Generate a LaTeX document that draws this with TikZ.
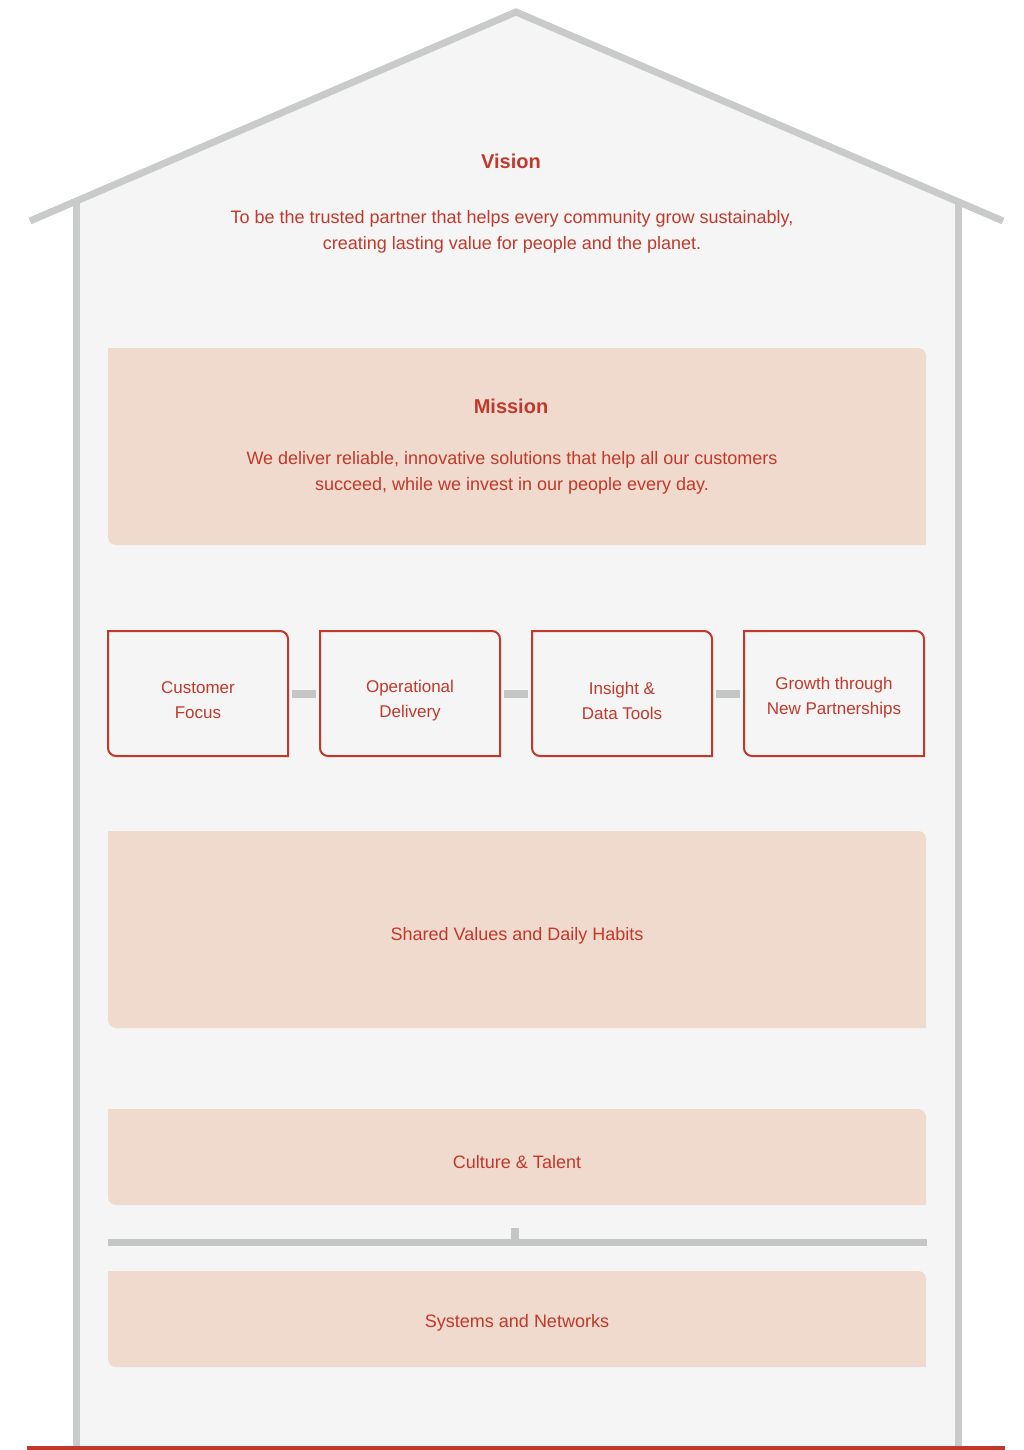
\documentclass[tikz,border=0pt]{standalone}
\usepackage{fontspec}
\setmainfont{Liberation Sans}
\usepackage{tikz}
\usetikzlibrary{calc}

\definecolor{wallgray}{HTML}{C9CACA}
\definecolor{bargray}{HTML}{C4C5C5}
\definecolor{housefill}{HTML}{F5F5F5}
\definecolor{brickred}{HTML}{C0392B}
\definecolor{peach}{HTML}{F0DACE}

% box with rounded top right and bottom left corners
\newcommand{\leafbox}[2]{%
	\path[#1] (#2.north west) -- ([xshift=-8pt]#2.north east)
		arc[start angle=90, end angle=0, radius=8pt] -- (#2.south east)
		-- ([xshift=8pt]#2.south west)
		arc[start angle=270, end angle=180, radius=8pt] -- cycle;}

\begin{document}
\begin{tikzpicture}[x=1pt, y=1pt,
		wall/.style={draw=wallgray, line width=7pt},
		bar/.style={draw=bargray, line width=8pt},
		slab/.style={minimum width=818pt, inner sep=0pt, outer sep=0pt},
		pillar/.style={minimum width=180pt, minimum height=125pt, inner sep=0pt, outer sep=0pt},
		heading/.style={text=brickred, font=\bfseries\fontsize{20}{24}\selectfont},
		body/.style={text=brickred, align=center, font=\fontsize{18}{26}\selectfont},
		small/.style={text=brickred, align=center, font=\fontsize{17}{25}\selectfont}]

		\useasboundingbox (0,0) rectangle (1024,-1450);

		% House: body, walls and roof
		\coordinate (eaveL) at (30,-221);
		\coordinate (wallL) at (76,-201);
		\coordinate (apex) at (516,-12);
		\coordinate (wallR) at (958,-201);
		\coordinate (eaveR) at (1003,-221);
		\fill[housefill] (wallL) -- (apex) -- (wallR) -- (958,-1450) -- (76,-1450) -- cycle;
		\draw[wall] (wallL) -- (76,-1450);
		\draw[wall] (wallR) -- (958,-1450);
		\draw[wall, line join=miter] (eaveL) -- (apex) -- (eaveR);

		% Ground line
		\coordinate (groundL) at (27,-1450);
		\coordinate (groundR) at (1005,-1450);
		\draw[brickred, line width=8pt] (groundL) -- (groundR);

		% Roof: vision
		\node[heading] (visionT) at (511,-161) {Vision};
		\node[body] (visionB) at (512,-232) {To be the trusted partner that helps every community grow sustainably,\\
			creating lasting value for people and the planet.};

		% Mission
		\node[slab, minimum height=197pt] (mission) at (517,-446.5) {};
		\leafbox{fill=peach}{mission}
		\node[heading] (missionT) at (511,-406) {Mission};
		\node[body] (missionB) at (512,-473) {We deliver reliable, innovative solutions that help all our customers\\
			succeed, while we invest in our people every day.};

		% Pillars
		\node[pillar] (P1) at (198,-693.5) {};
		\node[pillar] (P2) at (410,-693.5) {};
		\node[pillar] (P3) at (622,-693.5) {};
		\node[pillar] (P4) at (834,-693.5) {};
		\foreach \p in {P1,P2,P3,P4} {
				\leafbox{draw=brickred, line width=2pt}{\p}
			}
		\foreach \a/\b in {P1/P2,P2/P3,P3/P4} {
				\draw[bar, shorten <=4pt, shorten >=4pt] (\a.east) -- (\b.west);
			}
		\node[small] (P1T) at ($(P1)+(0,-7)$) {Customer\\Focus};
		\node[small] (P2T) at ($(P2)+(0,-7)$) {Operational\\Delivery};
		\node[small] (P3T) at ($(P3)+(0,-7)$) {Insight \&\\Data Tools};
		\node[small] (P4T) at ($(P4)+(0,-4)$) {Growth through\\New Partnerships};

		% Values
		\node[slab, minimum height=197pt] (core) at (517,-929.5) {};
		\leafbox{fill=peach}{core}
		\node[body] (coreT) at ($(core)+(0,-6)$) {Shared Values and Daily Habits};

		% Foundation
		\node[slab, minimum height=96pt] (baseA) at (517,-1157) {};
		\leafbox{fill=peach}{baseA}
		\node[body] (baseAT) at ($(baseA)+(0,-5)$) {Culture \& Talent};

		\coordinate (sepL) at (108,-1242);
		\coordinate (sepR) at (927,-1242);
		\coordinate (tickT) at (514.5,-1228);
		\coordinate (tickB) at (514.5,-1240);
		\draw[bar, line width=7pt] (sepL) -- (sepR);
		\draw[bar] (tickT) -- (tickB);

		\node[slab, minimum height=96pt] (baseB) at (517,-1319) {};
		\leafbox{fill=peach}{baseB}
		\node[body] (baseBT) at ($(baseB)+(0,-4)$) {Systems and Networks};

	\end{tikzpicture}
\end{document}
